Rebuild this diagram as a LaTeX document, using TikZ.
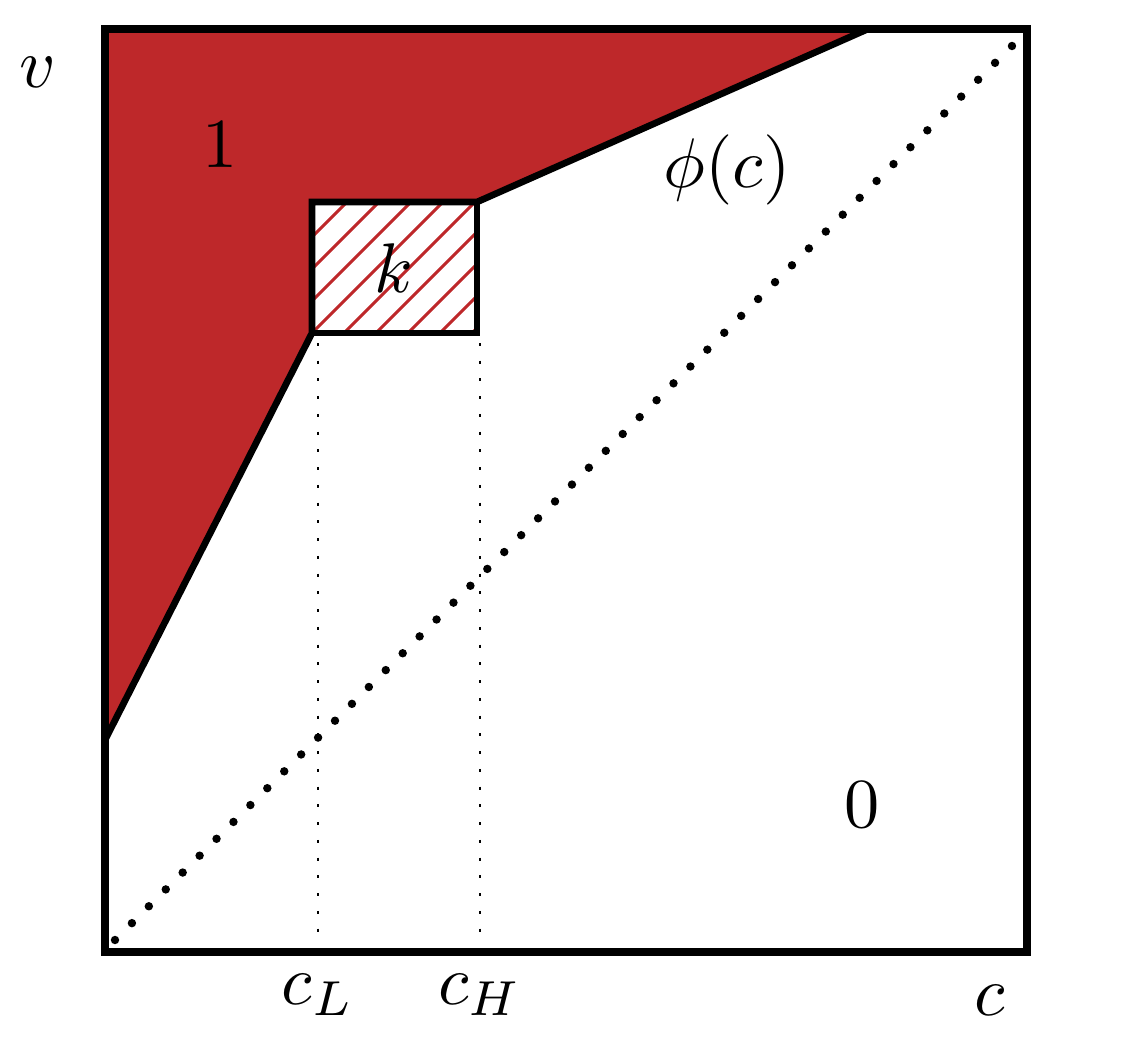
\documentclass[tikz,border=0pt]{standalone}
\usepackage{amsmath,amssymb}
\usepackage{xcolor}
\usetikzlibrary{positioning, calc, arrows.meta}
\definecolor{regionred}{RGB}{190,40,42}
\tikzset{
    bigtext/.style={scale=4.0, inner sep=0pt},
    frameline/.style={line width=5pt},
    philine/.style={line width=3.8pt, line join=miter},
    dotdiag/.style={line width=4.8pt, line cap=round, dash pattern=on 0pt off 13.6pt},
    dotguide/.style={line width=1.7pt, dash pattern=on 1.7pt off 8.4pt},
}

\begin{document}
\begin{tikzpicture}[x=0.02cm, y=-0.02cm, >=stealth]

    \useasboundingbox (0,0) rectangle (1126,1044);

    % --- Key points ---
    \coordinate (O) at (105,952);
    \coordinate (TL) at (105,29);
    \coordinate (TR) at (1027,29);
    \coordinate (BR) at (1027,952);
    \coordinate (phiTop) at (868,29);
    \coordinate (phiLow) at (105,740);
    \coordinate (kTL) at (312,202);
    \coordinate (kTR) at (477,202);
    \coordinate (kBR) at (477,333);
    \coordinate (kBL) at (312,333);

    % --- Region where v is high: 1 ---
    \fill[regionred] (TL) -- (phiTop) -- (kTR) -- (kTL) -- (kBL) -- (phiLow) -- cycle;

    % --- Hatched box k ---
    \begin{scope}
        \clip (kTL) rectangle (kBR);
        \foreach \i in {-160,-128,...,200} {
            \draw[regionred, line width=1.8pt] (312+\i,333) -- ++(160,-160);
        }
    \end{scope}

    % --- Diagonal v = c ---
    \draw[dotdiag] (115,940) -- (1020,38);

    % --- Guides down to c_L and c_H ---
    \draw[dotguide] (kBL) ++(6,10) -- (318,945);
    \draw[dotguide] (kBR) ++(3,10) -- (480,945);

    % --- Boundary phi(c) ---
    \draw[philine] (phiLow) -- (kBL) -- (kTL) -- (kTR) -- (phiTop);
    \draw[philine] (kBL) -- (kBR) -- (kTR);

    % --- Frame ---
    \draw[frameline] (TL) rectangle (BR);

    % --- Labels ---
    \node[bigtext] (lblV) at (38,72) {$v$};
    \node[bigtext] (lblOne) at (220,145) {$1$};
    \node[bigtext] (lblZero) at (862,805) {$0$};
    \node[bigtext] (lblK) at (394,268) {$k$};
    \node[bigtext] (lblPhi) at (727,170) {$\phi(c)$};
    \node[bigtext] (lblCL) at (318,995) {$c_L$};
    \node[bigtext] (lblCH) at (480,995) {$c_H$};
    \node[bigtext] (lblC) at (990,1000) {$c$};

\end{tikzpicture}
\end{document}
